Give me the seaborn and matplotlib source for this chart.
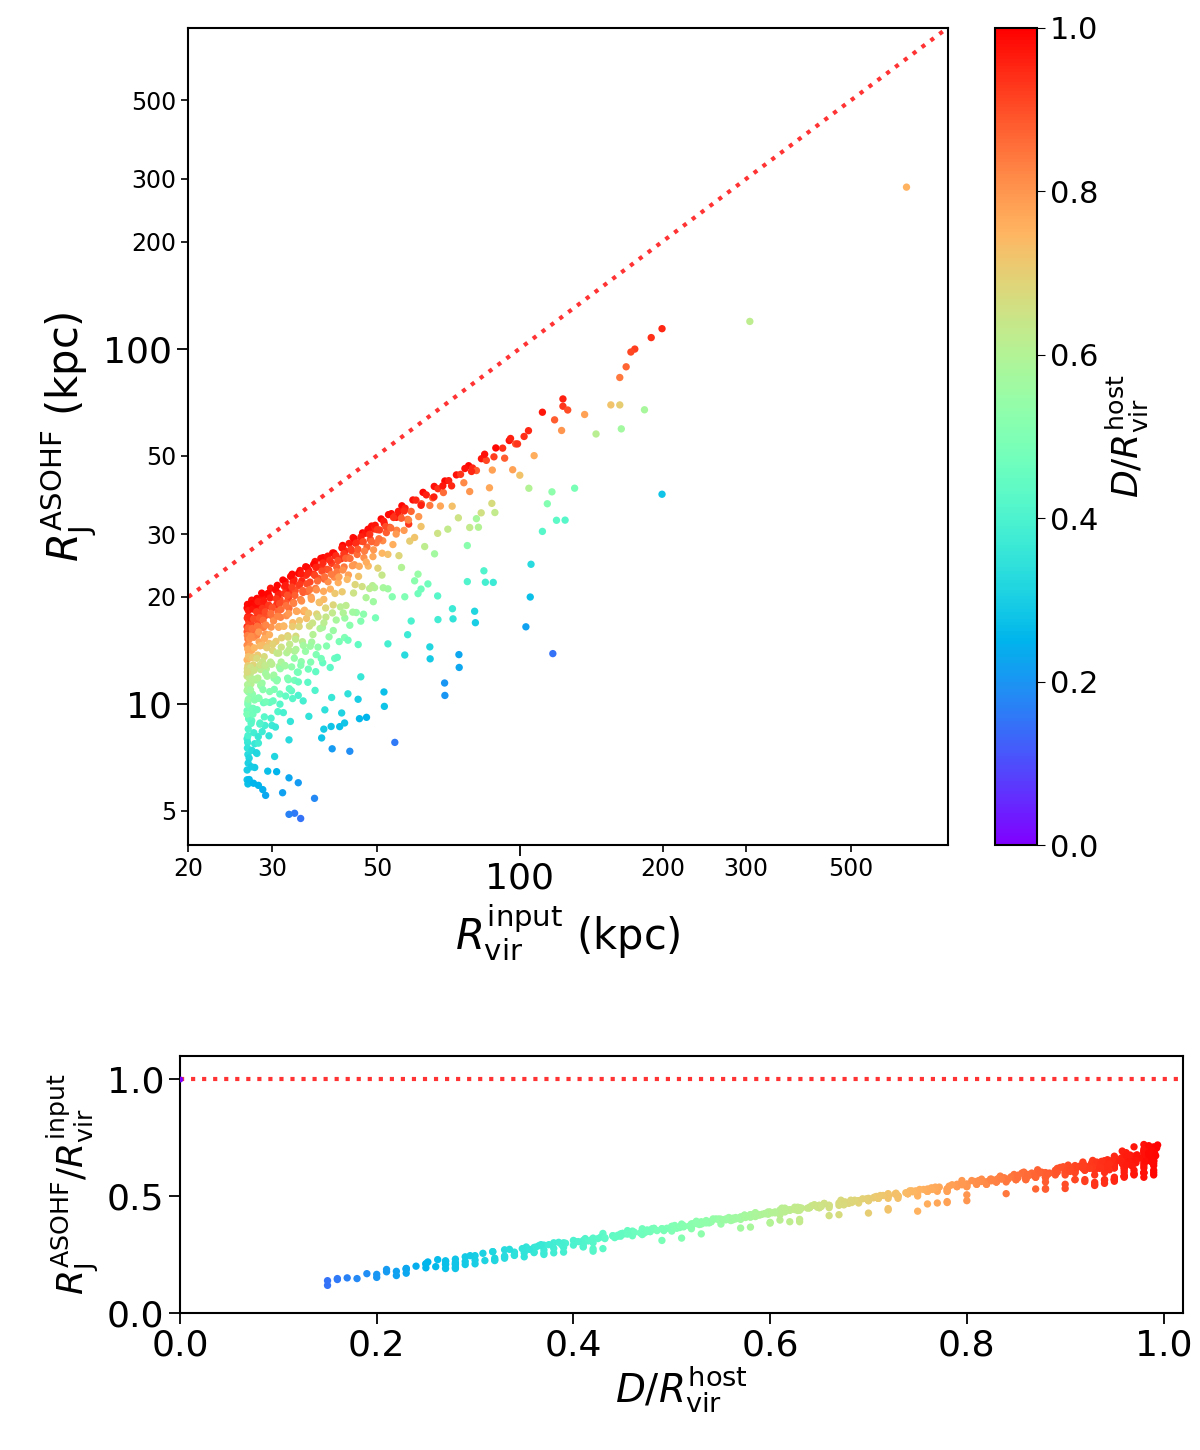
import numpy as np
import pandas as pd
import matplotlib
matplotlib.use('Agg')
import matplotlib.pyplot as plt
import seaborn as sns
from matplotlib.ticker import FixedLocator, FixedFormatter

# subhalo input virial radius (kpc)
rvir_input = [
    26.6, 26.7, 26.6, 26.8, 26.6, 26.9, 26.7, 26.6, 26.8, 26.6,
    26.7, 26.6, 26.9, 26.6, 26.7, 26.6, 26.8, 26.6, 26.7, 26.6,
    27.2, 27.4, 27.1, 27.3, 27.5, 27.2, 27.4, 27.1, 27.3, 27.2,
    27.6, 27.0, 27.0, 27.0, 27.0, 27.0, 27.0, 27.0, 27.9, 28.1,
    27.8, 28.0, 28.3, 27.9, 28.2, 28.0, 28.4, 27.8, 28.1, 28.3,
    27.9, 28.7, 28.9, 28.6, 29.0, 28.8, 29.1, 28.7, 28.9, 29.2,
    28.6, 28.8, 29.0, 29.6, 29.8, 29.5, 30.0, 29.7, 30.2, 29.9,
    29.6, 30.1, 29.8, 30.3, 29.7, 30.0, 30.8, 31.0, 30.7, 31.2,
    30.9, 31.3, 31.0, 30.6, 31.4, 31.1, 30.8, 31.2, 32.0, 32.3,
    31.9, 32.5, 32.1, 32.6, 32.2, 31.8, 32.4, 32.7, 32.0, 32.5,
    33.1, 33.4, 33.0, 33.6, 33.3, 33.8, 33.2, 33.7, 33.5, 33.0,
    34.4, 34.7, 34.2, 34.9, 34.5, 35.0, 34.3, 34.8, 34.6, 34.1,
    35.6, 35.9, 35.4, 36.1, 35.7, 36.3, 35.5, 36.0, 36.4, 35.8,
    37.0, 37.4, 36.8, 37.6, 37.1, 37.8, 37.3, 37.9, 37.2, 38.5,
    38.9, 38.3, 39.2, 38.7, 39.4, 38.6, 39.0, 39.6, 38.4, 40.3,
    40.8, 40.1, 41.1, 40.6, 41.4, 40.4, 41.0, 41.6, 42.3, 42.8,
    42.0, 43.2, 42.6, 43.5, 42.2, 43.0, 43.8, 44.5, 45.0, 44.2,
    45.4, 44.8, 45.7, 44.6, 45.2, 46.6, 47.2, 46.3, 47.6, 46.9,
    47.9, 46.5, 47.4, 48.7, 49.3, 48.4, 49.8, 49.0, 50.2, 48.9,
    51.0, 51.8, 50.6, 52.3, 51.4, 52.7, 51.2, 53.6, 54.3, 53.2,
    55.0, 54.0, 55.6, 56.4, 57.3, 56.0, 58.0, 57.0, 58.6, 59.5,
    60.4, 59.0, 61.2, 60.0, 62.5, 63.5, 62.0, 64.6, 63.0, 66.0,
    67.2, 65.5, 68.0, 69.5, 70.8, 69.0, 72.0, 73.5, 75.0, 76.2,
    78.0, 79.5, 81.0, 83.0, 85.0, 87.5, 89.0, 92.0, 95.0, 98.0,
    654.0, 305.6, 199.5, 189.3, 174.8, 171.5, 167.6, 162.5, 155.6, 162.5,
    183.2, 163.7, 144.8, 123.3, 123.3, 126.2, 111.6, 118.4, 137.0, 122.5,
    104.5, 116.9, 130.5, 199.5, 114.3, 119.5, 124.6, 111.6, 105.6, 105.2,
    103.0, 117.4, 84.6, 87.9, 80.6, 74.5, 69.5, 64.7, 72.3, 67.2,
    51.8, 34.5, 33.5, 32.6, 36.9, 31.6, 29.1, 28.7, 28.1, 26.7,
    34.1, 32.6, 30.7, 29.4, 27.6, 26.6, 54.5, 43.8, 40.2, 38.2,
    38.6, 40.0, 41.7, 69.4, 74.4, 80.3, 51.7, 45.6, 45.9, 47.5,
    64.6, 72.1, 77.5, 84.0, 49.4, 52.7, 57.2, 61.0, 66.1, 70.5,
    77.5, 81.0, 74.2, 67.1, 61.9, 56.3, 49.1, 61.0, 60.0, 46.2,
    42.7, 40.7, 37.0, 34.1, 32.6, 30.4, 28.1, 46.2, 43.4, 38.8,
    40.1, 42.1, 35.9, 42.7, 52.7, 58.0, 59.0, 57.2, 61.9, 64.0,
    67.1, 95.6, 98.9, 102.1, 104.3, 84.3, 88.2, 92.9, 76.6, 79.1,
    68.8, 71.8, 61.9, 65.9, 54.9, 58.3, 78.4, 86.3, 96.6, 100.0,
    107.2, 87.3, 88.6, 82.9, 78.4, 81.8,
    26.65, 26.75, 26.62, 26.85, 26.7, 26.63, 26.9, 26.68, 26.78, 26.64,
    26.72, 26.66, 26.81, 26.69, 26.61, 26.74, 26.67, 26.86, 27.15, 27.35,
    27.05, 27.45, 27.25, 27.12, 27.55, 27.32, 27.08, 27.42, 27.18, 27.38,
    27.75, 28.05, 27.85, 28.25, 27.95, 28.15, 28.35, 27.88, 28.22, 28.45,
    28.55, 28.85, 28.65, 29.05, 28.75, 29.15, 28.95, 29.25, 28.68, 29.1,
    29.45, 29.75, 29.55, 30.05, 29.85, 30.25, 29.65, 30.15, 29.95, 30.35,
    30.55, 30.95, 30.65, 31.15, 31.35, 30.85, 31.05, 31.45, 30.75, 31.25,
    31.65, 32.05, 31.85, 32.35, 32.15, 32.55, 31.75, 32.45, 32.25, 32.65,
    32.85, 33.25, 33.05, 33.55, 33.35, 33.85, 33.15, 33.65, 33.45, 33.95,
    34.15, 34.55, 34.35, 34.85, 34.65, 35.15, 34.25, 34.95, 35.35, 35.75,
    35.55, 36.05, 36.35, 35.85, 36.55, 36.15, 36.75, 37.15, 36.95, 37.45,
    37.25, 37.75, 37.55, 38.05, 38.45, 38.25, 38.75, 38.55, 38.95, 38.35,
    39.35, 39.75, 39.55, 40.05, 39.85, 40.25, 40.55, 40.95, 41.35, 41.15,
    41.55, 40.75, 41.85, 42.15, 42.55, 42.95, 42.35, 43.25, 42.75, 43.65,
    44.05, 43.85, 44.35, 44.75, 45.15, 45.55, 45.85, 44.95, 46.25, 46.75,
    47.05, 47.45, 47.85, 48.25, 48.65, 49.15, 49.55, 50.05, 50.45, 51.25,
    51.65, 52.15, 52.85, 53.45, 54.15, 54.85, 55.45, 56.25, 57.05, 58.25,
    26.64, 26.71, 26.83, 26.6, 26.76, 26.68, 26.92, 26.62, 26.73, 26.87,
    27.22, 27.48, 27.12, 27.36, 27.58, 27.04, 27.28, 27.52, 27.16, 27.44,
    27.82, 28.08, 28.32, 27.92, 28.18, 28.42, 28.02, 28.28, 28.62, 28.92,
    29.12, 28.72, 29.32, 29.02, 29.58, 29.88, 30.18, 29.68, 30.28, 29.98,
    30.52, 30.88, 31.18, 30.72, 31.38, 31.02, 31.72, 32.08, 32.38, 31.92,
    32.58, 32.82, 33.18, 33.48, 33.02, 33.72, 34.12, 34.52, 34.92, 35.32,
    35.72, 36.22, 36.62, 37.12, 37.52, 38.12, 38.62, 39.12, 39.82, 40.42,
    41.22, 42.42, 43.42, 44.42, 45.62, 46.82, 48.22, 49.62, 51.52, 53.82,
]

# distance to host centre in units of host virial radius
d_host = [
    .99, .97, .95, .93, .90, .88, .85, .82, .78, .75,
    .70, .66, .62, .57, .52, .47, .43, .38, .33, .28,
    .98, .96, .92, .87, .81, .76, .69, .61, .54, .44,
    .36, .99, .94, .89, .80, .72, .64, .49, .99, .97,
    .95, .91, .86, .83, .77, .71, .63, .58, .50, .41,
    .34, .98, .96, .93, .90, .84, .79, .74, .67, .60,
    .55, .46, .39, .99, .97, .94, .92, .88, .85, .80,
    .73, .68, .62, .53, .45, .37, .99, .96, .94, .91,
    .87, .83, .78, .71, .65, .58, .51, .42, .98, .97,
    .95, .92, .89, .86, .81, .76, .70, .63, .56, .48,
    .99, .96, .93, .90, .85, .80, .74, .67, .59, .44,
    .98, .95, .92, .88, .83, .77, .72, .61, .53, .40,
    .99, .97, .94, .91, .86, .79, .73, .66, .57, .47,
    .98, .96, .93, .89, .84, .75, .69, .60, .50, .99,
    .97, .94, .90, .87, .81, .74, .64, .54, .45, .98,
    .96, .92, .88, .82, .76, .68, .58, .49, .99, .95,
    .93, .89, .84, .78, .71, .62, .52, .98, .96, .91,
    .86, .80, .72, .65, .55, .99, .97, .93, .87, .81,
    .74, .66, .59, .98, .95, .90, .85, .77, .69, .61,
    .99, .96, .92, .88, .82, .73, .64, .98, .94, .89,
    .83, .76, .68, .99, .96, .91, .85, .79, .70, .98,
    .95, .87, .80, .72, .99, .96, .90, .84, .62, .98,
    .94, .88, .77, .99, .96, .86, .73, .98, .93, .82,
    .99, .95, .88, .97, .91, .78, .99, .94, .98, .90,
    .75, .62, .95, .94, .92, .91, .87, .84, .72, .70,
    .58, .57, .61, .96, .93, .90, .97, .88, .78, .80,
    .60, .53, .49, .28, .51, .43, .42, .42, .33, .27,
    .22, .15, .39, .37, .30, .23, .20, .29, .35, .38,
    .28, .15, .16, .17, .18, .22, .23, .24, .25, .27,
    .21, .23, .25, .27, .29, .30, .16, .19, .21, .28,
    .29, .28, .27, .20, .23, .32, .27, .30, .26, .25,
    .32, .37, .41, .41, .60, .56, .50, .55, .57, .63,
    .52, .58, .65, .65, .72, .60, .56, .47, .52, .51,
    .50, .46, .41, .50, .33, .32, .38, .36, .34, .34,
    .36, .31, .35, .28, .39, .37, .40, .33, .47, .47,
    .42, .96, .93, .94, .95, .98, .92, .88, .98, .95,
    .97, .95, .96, .96, .97, .93, .80, .77, .78, .72,
    .76, .67, .63, .66, .63, .60,
    .985, .962, .943, .915, .872, .834, .805, .764, .727, .683,
    .645, .595, .548, .503, .455, .412, .367, .318, .992, .973,
    .947, .903, .856, .815, .744, .706, .655, .585, .525, .475,
    .987, .958, .928, .892, .848, .795, .738, .672, .612, .535,
    .994, .966, .937, .904, .866, .824, .762, .705, .642, .574,
    .989, .962, .927, .895, .858, .812, .756, .694, .605, .495,
    .985, .958, .932, .905, .862, .825, .765, .698, .625, .545,
    .993, .964, .936, .898, .852, .795, .742, .676, .598, .452,
    .988, .957, .918, .876, .832, .772, .708, .628, .542, .482,
    .991, .962, .926, .878, .815, .748, .686, .574, .986, .948,
    .903, .845, .782, .715, .645, .555, .992, .955, .912, .862,
    .808, .728, .655, .985, .946, .904, .852, .768, .685, .585,
    .975, .938, .892, .838, .752, .632, .988, .945, .902, .842,
    .785, .712, .615, .972, .928, .874, .812, .742, .558, .965,
    .918, .862, .796, .985, .942, .884, .768, .682, .958, .905,
    .835, .765, .982, .936, .868, .795, .972, .925, .852, .745,
    .962, .905, .988, .862, .935, .795, .968, .882, .945, .825,
    .352, .402, .448, .492, .538, .585, .628, .675, .308, .262,
    .335, .385, .428, .472, .518, .562, .605, .648, .295, .252,
    .318, .365, .412, .462, .512, .555, .598, .652, .375, .425,
    .478, .522, .575, .625, .348, .405, .455, .508, .562, .615,
    .362, .415, .468, .528, .588, .638, .392, .445, .505, .565,
    .615, .355, .418, .478, .535, .592, .455, .512, .388, .548,
    .432, .505, .602, .445, .532, .478, .615, .512, .432, .552,
    .448, .595, .475, .565, .442, .525, .615, .485, .575, .512,
]

# R_J^ASOHF / R_vir^input
ratio_rj = [
    .70, .66, .62, .64, .60, .58, .57, .55, .52, .50,
    .48, .45, .44, .41, .38, .36, .34, .30, .27, .23,
    .72, .68, .62, .59, .56, .52, .47, .42, .39, .33,
    .28, .69, .65, .61, .54, .50, .45, .36, .71, .67,
    .63, .60, .58, .56, .53, .49, .44, .42, .37, .31,
    .26, .70, .66, .63, .61, .57, .54, .51, .47, .43,
    .40, .35, .30, .68, .71, .64, .62, .60, .58, .55,
    .50, .47, .44, .39, .34, .29, .70, .66, .62, .63,
    .59, .56, .53, .49, .46, .41, .38, .32, .69, .65,
    .67, .61, .60, .57, .55, .52, .48, .45, .40, .36,
    .70, .67, .62, .62, .58, .54, .51, .46, .42, .33,
    .69, .64, .63, .59, .57, .52, .50, .43, .38, .31,
    .68, .66, .65, .61, .58, .55, .49, .46, .41, .35,
    .68, .65, .63, .60, .57, .51, .48, .43, .37, .67,
    .66, .63, .61, .58, .56, .51, .45, .39, .34, .66,
    .64, .62, .59, .56, .53, .47, .42, .36, .66, .63,
    .61, .60, .57, .53, .49, .44, .38, .66, .63, .61,
    .58, .55, .50, .46, .40, .65, .64, .62, .58, .55,
    .51, .46, .42, .65, .63, .60, .57, .53, .48, .44,
    .65, .62, .61, .58, .56, .50, .45, .64, .62, .59,
    .56, .52, .47, .64, .62, .60, .57, .54, .49, .63,
    .62, .59, .55, .49, .63, .61, .59, .56, .44, .62,
    .60, .58, .53, .61, .60, .57, .50, .60, .59, .55,
    .60, .58, .56, .59, .57, .52, .59, .57, .58, .55,
    .435, .39, .57, .567, .57, .57, .53, .51, .446, .427,
    .367, .363, .397, .585, .558, .532, .593, .532, .476, .48,
    .387, .338, .31, .195, .32, .275, .264, .274, .234, .19,
    .16, .118, .26, .25, .21, .17, .152, .207, .24, .257,
    .19, .138, .147, .15, .147, .178, .19, .20, .21, .223,
    .176, .19, .21, .22, .24, .245, .143, .168, .186, .21,
    .22, .216, .207, .165, .185, .227, .209, .226, .198, .193,
    .224, .257, .285, .282, .43, .40, .35, .38, .40, .44,
    .36, .41, .45, .45, .51, .43, .395, .335, .37, .37,
    .36, .33, .295, .36, .243, .234, .276, .258, .246, .248,
    .26, .224, .257, .207, .28, .27, .29, .24, .34, .34,
    .30, .584, .545, .554, .563, .598, .562, .529, .60, .57,
    .597, .572, .585, .58, .61, .55, .505, .47, .472, .44,
    .466, .42, .39, .416, .40, .384,
    .715, .685, .655, .628, .612, .585, .566, .535, .508, .472,
    .462, .425, .402, .374, .352, .318, .292, .262, .705, .676,
    .645, .632, .598, .572, .522, .495, .468, .428, .392, .355,
    .688, .692, .652, .618, .592, .566, .514, .482, .448, .395,
    .718, .675, .648, .625, .598, .572, .528, .492, .458, .418,
    .695, .668, .642, .622, .602, .566, .528, .488, .432, .362,
    .685, .655, .645, .615, .588, .572, .532, .488, .452, .402,
    .705, .672, .642, .625, .588, .552, .522, .475, .432, .338,
    .695, .662, .645, .602, .575, .538, .498, .452, .402, .362,
    .682, .672, .632, .598, .562, .522, .482, .418, .688, .652,
    .612, .582, .542, .502, .462, .402, .672, .652, .622, .592,
    .562, .512, .468, .675, .648, .618, .588, .538, .478, .428,
    .662, .638, .602, .578, .528, .448, .655, .638, .612, .572,
    .548, .502, .448, .652, .622, .598, .562, .518, .408, .648,
    .618, .585, .552, .652, .628, .598, .532, .482, .638, .612,
    .572, .528, .648, .622, .588, .552, .642, .618, .578, .518,
    .632, .605, .645, .585, .618, .548, .628, .592, .612, .565,
    .282, .305, .338, .352, .385, .412, .438, .462, .255, .228,
    .272, .302, .325, .342, .372, .405, .428, .452, .245, .218,
    .262, .288, .312, .345, .368, .398, .422, .455, .292, .318,
    .348, .382, .408, .442, .275, .305, .338, .365, .398, .432,
    .282, .308, .342, .378, .418, .448, .298, .328, .365, .402,
    .435, .272, .312, .348, .385, .422, .338, .372, .292, .398,
    .322, .362, .428, .332, .385, .352, .438, .372, .318, .398,
    .328, .425, .348, .408, .322, .382, .438, .352, .412, .372,
]

# host halo itself
host_d = [0.0]
host_ratio = [1.0]

df = pd.DataFrame({'rvir': rvir_input, 'd': d_host, 'ratio': ratio_rj})
df['rj'] = df['rvir'] * df['ratio']

sns.set_style('ticks')
plt.rcParams['font.family'] = ['DejaVu Sans']
plt.rcParams['mathtext.fontset'] = 'dejavusans'
plt.rcParams['axes.linewidth'] = 1.5
for key in ['text.color', 'axes.labelcolor', 'xtick.color', 'ytick.color', 'axes.edgecolor']:
    plt.rcParams[key] = 'black'

fig = plt.figure(figsize=(12, 14.5), dpi=100)
ax1 = fig.add_axes([0.157, 0.417, 0.633, 0.564])
cax = fig.add_axes([0.829, 0.417, 0.035, 0.564])
ax2 = fig.add_axes([0.15, 0.0945, 0.836, 0.1775])

norm = plt.Normalize(0, 1)

# --- top panel: R_J vs R_vir ---
sns.scatterplot(data=df, x='rvir', y='rj', hue='d', palette='rainbow', hue_norm=norm,
                s=28, linewidth=0, legend=False, ax=ax1, zorder=3)
ax1.set_xscale('log')
ax1.set_yscale('log')
ax1.plot([20, 800], [20, 800], ls=':', color='red', alpha=0.8, lw=3, zorder=2)
ax1.set_xlim(20, 800)
ax1.set_ylim(4.0, 800)

ax1.xaxis.set_major_locator(FixedLocator([100]))
ax1.xaxis.set_major_formatter(FixedFormatter(['100']))
ax1.xaxis.set_minor_locator(FixedLocator([20, 30, 50, 200, 300, 500]))
ax1.xaxis.set_minor_formatter(FixedFormatter(['20', '30', '50', '200', '300', '500']))
ax1.yaxis.set_major_locator(FixedLocator([10, 100]))
ax1.yaxis.set_major_formatter(FixedFormatter(['10', '100']))
ax1.yaxis.set_minor_locator(FixedLocator([5, 20, 30, 50, 200, 300, 500]))
ax1.yaxis.set_minor_formatter(FixedFormatter(['5', '20', '30', '50', '200', '300', '500']))
ax1.tick_params(which='major', labelsize=26, length=8, width=1.3)
ax1.tick_params(which='minor', labelsize=17, length=5, width=1.2)
ax1.set_xlabel(r'$R_{\rm vir}^{\rm input}$ (kpc)', fontsize=30)
ax1.set_ylabel(r'$R_{\rm J}^{\rm ASOHF}$ (kpc)', fontsize=30)

sm = plt.cm.ScalarMappable(norm=norm, cmap='rainbow')
cb = fig.colorbar(sm, cax=cax)
cb.set_ticks([0.0, 0.2, 0.4, 0.6, 0.8, 1.0])
cb.ax.tick_params(labelsize=22, length=6)
cb.set_label(r'$D/R_{\rm vir}^{\rm host}$', fontsize=26, labelpad=4)

# --- bottom panel: ratio vs distance ---
sns.scatterplot(data=df, x='d', y='ratio', hue='d', palette='rainbow', hue_norm=norm,
                s=28, linewidth=0, legend=False, ax=ax2, zorder=3)
ax2.scatter(host_d, host_ratio, c=host_d, cmap='rainbow', norm=norm, s=10, zorder=3)
ax2.axhline(1.0, ls=':', color='red', alpha=0.8, lw=3, zorder=2)
ax2.set_xlim(0, 1.02)
ax2.set_ylim(0, 1.1)
ax2.set_xticks([0.0, 0.2, 0.4, 0.6, 0.8, 1.0])
ax2.set_yticks([0.0, 0.5, 1.0])
ax2.tick_params(labelsize=26, length=8, width=1.3)
ax2.set_xlabel(r'$D/R_{\rm vir}^{\rm host}$', fontsize=28, labelpad=0)
ax2.set_ylabel(r'$R_{\rm J}^{\rm ASOHF}/R_{\rm vir}^{\rm input}$', fontsize=26, labelpad=4)

fig.savefig('out.png', dpi=100)
